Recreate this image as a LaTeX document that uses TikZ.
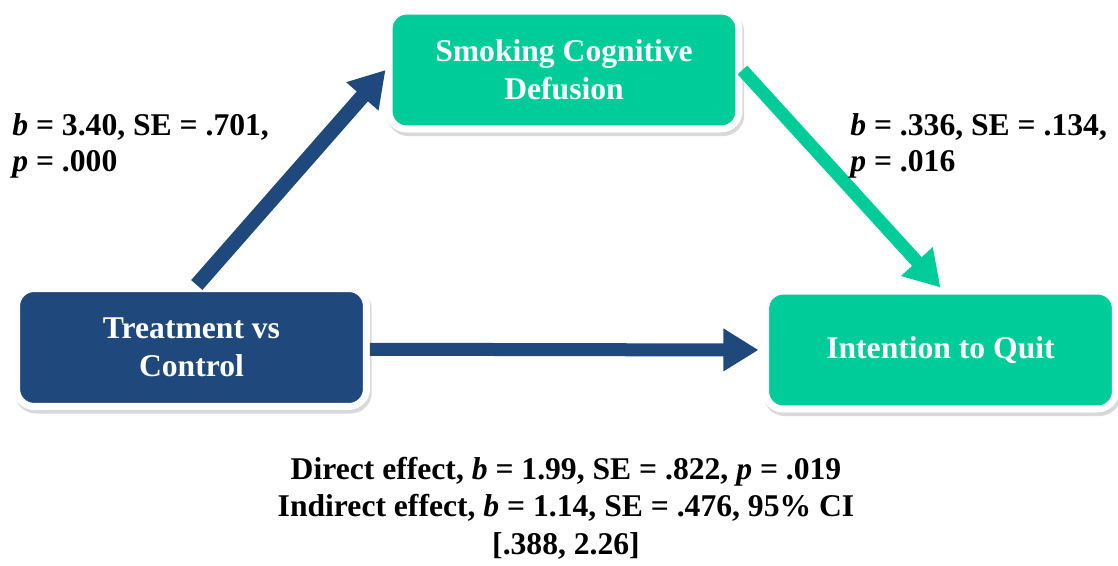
\documentclass[tikz,border=0pt]{standalone}
\usepackage{fontspec}
\setmainfont{Liberation Serif}
\usetikzlibrary{arrows.meta,shadows}
\definecolor{pathblue}{HTML}{1F497D}
\definecolor{pathgreen}{HTML}{00CC99}
\tikzset{
  varbox/.style={draw=white, line width=4pt, rounded corners=10pt,
    minimum width=7cm, minimum height=2.36cm, align=center, text=white,
    font=\fontsize{18}{21.6}\selectfont\bfseries,
    drop shadow={shadow xshift=1pt, shadow yshift=-2pt, opacity=0.3,
      fill=black!50, draw=black!50}},
  coef/.style={align=left, inner sep=0pt, font=\fontsize{18}{20.5}\selectfont\bfseries},
  patharrow/.style={-{Triangle[length=20pt,width=23pt]}},
}

\begin{document}
\begin{tikzpicture}[x=0.02cm, y=-0.02cm]
		%%%%% START %%%%%
		\useasboundingbox (0,0) rectangle (1118,565);
		
		\node[varbox, fill=pathblue] (treat) at (191.5,347.5) {Treatment vs\\Control};
		\node[varbox, fill=pathgreen] (smoke) at (564,70) {Smoking Cognitive\\Defusion};
		\node[varbox, fill=pathgreen] (intent) at (940.5,350) {Intention to Quit};
		
		\draw[patharrow, pathblue, line width=8.5pt] ([xshift=3pt]treat.north) -- (smoke.west);
		\draw[patharrow, pathgreen, line width=7.4pt] (smoke.east) -- (intent.north);
		\draw[patharrow, pathblue, line width=7.4pt, shorten >=2pt] ([yshift=-1pt]treat.east) -- (intent.west);
		
		\node[coef, anchor=west] (lblA) at (12,146) {\textit{b} = 3.40, SE = .701,\\\textit{p} = .000};
		\node[coef, anchor=west] (lblB) at (850,146) {\textit{b} = .336, SE = .134,\\\textit{p} = .016};
		
		\node[coef, align=center, font=\fontsize{18}{21.3}\selectfont\bfseries] (effects) at (566,508)
		  {Direct effect, \textit{b} = 1.99, SE = .822, \textit{p} = .019\\
		   Indirect effect, \textit{b} = 1.14, SE = .476, 95\% CI\\
		   {[}.388, 2.26]};
		
		%%%%% END %%%%%
\end{tikzpicture}
\end{document}
